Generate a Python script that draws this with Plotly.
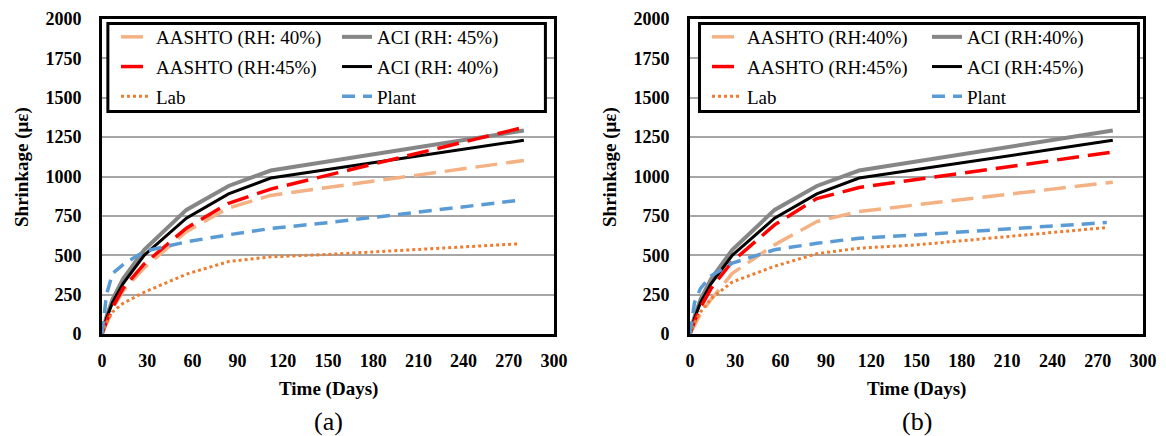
import plotly.graph_objects as go

# Time axis (days) for model predictions and measured data
days_model = [0, 3, 7, 14, 28, 56, 84, 112, 280]
days_meas = [0, 3, 7, 14, 28, 56, 84, 112, 150, 276]

# Panel (a) shrinkage values (microstrain)
a_aashto_40 = [0, 75, 160, 275, 420, 650, 800, 880, 1102]
a_aashto_45 = [0, 80, 170, 290, 445, 672, 830, 920, 1312]
a_aci_45 = [0, 110, 220, 350, 534, 788, 940, 1038, 1292]
a_aci_40 = [0, 100, 200, 320, 500, 735, 890, 990, 1230]
a_lab = [0, 70, 140, 195, 265, 380, 460, 490, 505, 572]
a_plant = [0, 250, 385, 440, 525, 585, 630, 670, 707, 848]

# Panel (b) shrinkage values (microstrain)
b_aashto_40 = [0, 60, 130, 220, 385, 566, 714, 778, 964]
b_aashto_45 = [0, 80, 170, 290, 460, 693, 860, 930, 1155]
b_aci_40 = [0, 110, 220, 350, 534, 788, 940, 1038, 1292]
b_aci_45 = [0, 100, 200, 320, 500, 735, 890, 990, 1230]
b_lab = [0, 70, 140, 225, 330, 430, 510, 545, 566, 676]
b_plant = [0, 200, 290, 370, 450, 535, 576, 608, 629, 708]

x_ticks = [0, 30, 60, 90, 120, 150, 180, 210, 240, 270, 300]
y_ticks = [0, 250, 500, 750, 1000, 1250, 1500, 1750, 2000]

FONT = "Liberation Serif"
W, H = 1166, 436

C_LORANGE = "#f4b183"
C_RED = "#ff0000"
C_GRAY = "#868686"
C_BLACK = "#000000"
C_ORANGE = "#ed7d31"
C_BLUE = "#5b9bd5"

LONGDASH = "22px,9px"
SHORTDASH = "13px,8px"

fig = go.Figure()


def add_panel(tag, xa, ya, leg_l, leg_r, gray_name, gray_y, black_name, black_y,
              lo_name, lo_y, red_name, red_y, lab_y, plant_y):
    common = dict(xaxis=xa, yaxis=ya, mode="lines")
    specs = [
        (days_model, gray_y, gray_name, leg_r, dict(color=C_GRAY, width=4)),
        (days_model, black_y, black_name, leg_r, dict(color=C_BLACK, width=3)),
        (days_model, lo_y, lo_name, leg_l, dict(color=C_LORANGE, width=3.5, dash=LONGDASH)),
        (days_model, red_y, red_name, leg_l, dict(color=C_RED, width=3.5, dash=LONGDASH)),
        (days_meas, lab_y, "Lab", leg_l, dict(color=C_ORANGE, width=3, dash="dot")),
        (days_meas, plant_y, "Plant", leg_r, dict(color=C_BLUE, width=3.5, dash=SHORTDASH)),
    ]
    for i, (xs, ys, name, leg, line) in enumerate(specs):
        fig.add_trace(go.Scatter(x=xs, y=ys, name=name, legend=leg,
                                 legendgroup=f"{tag}{i}", line=line, **common))


add_panel("a", "x", "y", "legend", "legend2",
          "ACI (RH: 45%)", a_aci_45, "ACI (RH: 40%)", a_aci_40,
          "AASHTO (RH: 40%)", a_aashto_40, "AASHTO (RH:45%)", a_aashto_45,
          a_lab, a_plant)
add_panel("b", "x2", "y2", "legend3", "legend4",
          "ACI (RH:40%)", b_aci_40, "ACI (RH:45%)", b_aci_45,
          "AASHTO (RH:40%)", b_aashto_40, "AASHTO (RH:45%)", b_aashto_45,
          b_lab, b_plant)

# plot-area positions in pixels
PA = (102, 554)
PB = (690, 1143)
TOP, BOT = 19, 334


def px_x(p):
    return p / W


def px_y(p):
    return 1 - p / H


xaxis_style = dict(range=[0, 300], tickvals=x_ticks, showgrid=False, zeroline=False,
                   showline=True, mirror=True, linewidth=3, linecolor="black",
                   ticks="", ticklabelstandoff=8, automargin=False,
                   tickfont=dict(family=FONT, size=18, color="black", weight="bold"))
yaxis_style = dict(range=[0, 2000], tickvals=y_ticks, showgrid=True, gridcolor="#a6a6a6",
                   gridwidth=1.5, zeroline=False, showline=True, mirror=True,
                   linewidth=3, linecolor="black", ticks="", ticklabelstandoff=14,
                   automargin=False,
                   tickfont=dict(family=FONT, size=18, color="black", weight="bold"))

fig.update_layout(
    template="none",
    width=W, height=H,
    margin=dict(l=0, r=0, t=0, b=0, autoexpand=False),
    paper_bgcolor="white", plot_bgcolor="white",
    font=dict(family=FONT, color="black"),
    xaxis=dict(domain=[px_x(PA[0]), px_x(PA[1])], anchor="y", **xaxis_style),
    yaxis=dict(domain=[px_y(BOT), px_y(TOP)], anchor="x", **yaxis_style),
    xaxis2=dict(domain=[px_x(PB[0]), px_x(PB[1])], anchor="y2", **xaxis_style),
    yaxis2=dict(domain=[px_y(BOT), px_y(TOP)], anchor="x2", **yaxis_style),
)

leg_common = dict(xanchor="left", yanchor="top", bgcolor="rgba(0,0,0,0)",
                  borderwidth=0, orientation="v", itemwidth=30, tracegroupgap=2,
                  font=dict(family=FONT, size=19, color="black"))
fig.update_layout(
    legend=dict(x=px_x(116), y=px_y(18), **leg_common),
    legend2=dict(x=px_x(337), y=px_y(18), **leg_common),
    legend3=dict(x=px_x(707), y=px_y(18), **leg_common),
    legend4=dict(x=px_x(927), y=px_y(18), **leg_common),
)

# legend frames
for xr, yr, x0, x1 in [("x domain", "y domain", 0.013, 0.981),
                       ("x2 domain", "y2 domain", 0.021, 0.990)]:
    fig.add_shape(type="rect", xref=xr, yref=yr, x0=x0, x1=x1, y0=0.706, y1=0.986,
                  line=dict(color="black", width=3), fillcolor="white", layer="above")

ann = []
for cx, cap in [((PA[0] + PA[1]) / 2, "(a)"), ((PB[0] + PB[1]) / 2, "(b)")]:
    ann.append(dict(x=px_x(cx), y=px_y(389), xref="paper", yref="paper",
                    xanchor="center", yanchor="middle",
                    text="<b>Time (Days)</b>", showarrow=False,
                    font=dict(family=FONT, size=19, color="black")))
    ann.append(dict(x=px_x(cx), y=px_y(421), xref="paper", yref="paper",
                    xanchor="center", yanchor="middle",
                    text=cap, showarrow=False,
                    font=dict(family=FONT, size=26, color="black")))
for tx in (22, 610):
    ann.append(dict(x=px_x(tx), y=px_y(167), xref="paper", yref="paper",
                    xanchor="center", yanchor="middle",
                    text="<b>Shrinkage (με)</b>", showarrow=False, textangle=-90,
                    font=dict(family=FONT, size=19, color="black")))
fig.update_layout(annotations=ann)

fig.write_html("out.html")
